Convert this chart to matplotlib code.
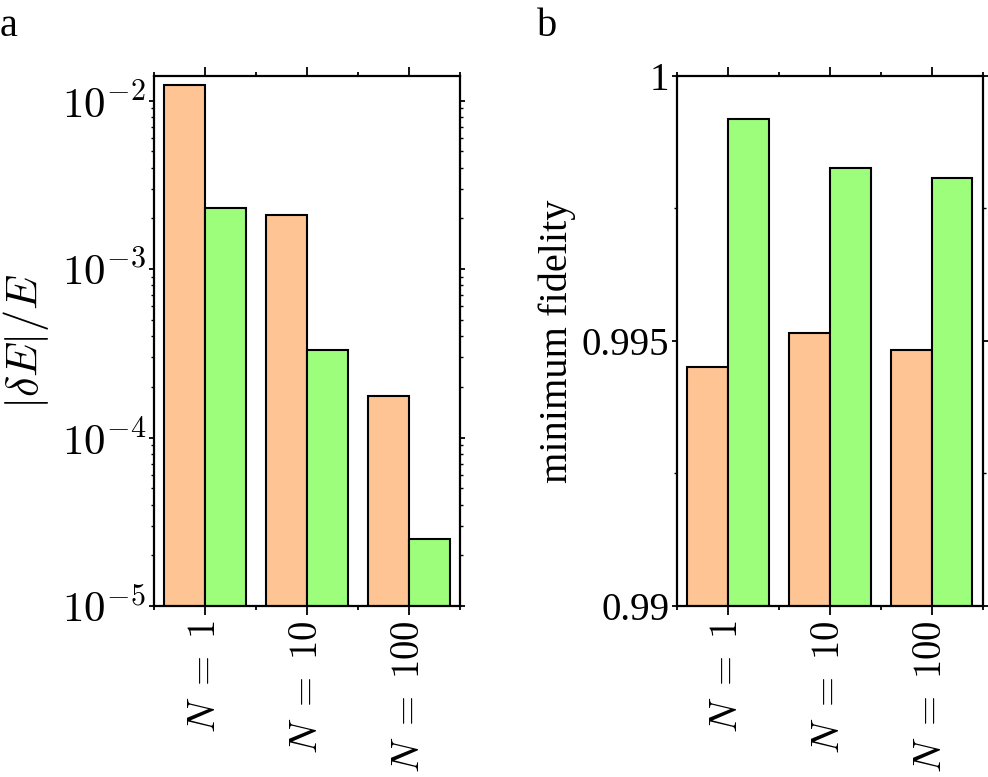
import numpy as np
import matplotlib
matplotlib.use("Agg")
import matplotlib.pyplot as plt
from matplotlib.ticker import FixedLocator, LogLocator, NullFormatter, FormatStrFormatter

plt.rcParams["font.family"] = ["Liberation Serif", "DejaVu Serif"]
plt.rcParams["mathtext.fontset"] = "cm"
plt.rcParams["font.size"] = 28

# data
labels = [r"$N\;=\;1$", r"$N\;=\;10$", r"$N\;=\;100$"]
err_orange = [1.24e-2, 2.1e-3, 1.77e-4]
err_green = [2.3e-3, 3.3e-4, 2.5e-5]
fid_orange = [0.99450, 0.99516, 0.99483]
fid_green = [0.99918, 0.99826, 0.99807]

c_orange = "#fec494"
c_green = "#9cfe7b"
w = 0.4
x = np.arange(len(labels))

fig = plt.figure(figsize=(9.88, 7.77), dpi=100)
axa = fig.add_axes([0.1559, 0.2201, 0.3097, 0.6821])
axb = fig.add_axes([0.6852, 0.2201, 0.3094, 0.6821])


def style(ax):
    for s in ax.spines.values():
        s.set_linewidth(1.6)
    ax.set_xlim(-0.5, 2.5)
    ax.xaxis.set_major_locator(FixedLocator(x))
    ax.xaxis.set_minor_locator(FixedLocator([-0.5, 0.5, 1.5, 2.5]))
    ax.set_xticklabels(labels, rotation=90, fontsize=28)
    ax.tick_params(axis="x", which="major", direction="out", length=6.5, width=1.3,
                   top=True, bottom=True, pad=4)
    ax.tick_params(axis="x", which="minor", direction="out", length=3, width=1.3,
                   top=True, bottom=True)
    ax.tick_params(axis="y", which="major", direction="out", length=3.6, width=1.3,
                   left=True, right=True, pad=2)
    ax.tick_params(axis="y", which="minor", direction="out", length=2, width=1.0,
                   left=True, right=True)


# panel a
axa.bar(x - w / 2, err_orange, w, color=c_orange, edgecolor="black", linewidth=1.5)
axa.bar(x + w / 2, err_green, w, color=c_green, edgecolor="black", linewidth=1.5)
axa.set_yscale("log")
axa.set_ylim(1e-5, 10 ** -1.854)
axa.yaxis.set_major_locator(FixedLocator([1e-5, 1e-4, 1e-3, 1e-2]))
axa.set_yticklabels([r"$10^{-5}$", r"$10^{-4}$", r"$10^{-3}$", r"$10^{-2}$"], fontsize=31)
axa.yaxis.set_minor_locator(LogLocator(base=10, subs=np.arange(2, 10), numticks=20))
axa.yaxis.set_minor_formatter(NullFormatter())
style(axa)
axa.set_ylabel(r"$|\delta E|/E$", fontsize=32, labelpad=8)

# panel b
axb.bar(x - w / 2, fid_orange, w, color=c_orange, edgecolor="black", linewidth=1.5)
axb.bar(x + w / 2, fid_green, w, color=c_green, edgecolor="black", linewidth=1.5)
axb.set_ylim(0.99, 1.0)
axb.yaxis.set_major_locator(FixedLocator([0.99, 0.995, 1.0]))
axb.yaxis.set_major_formatter(FormatStrFormatter("%g"))
axb.yaxis.set_minor_locator(FixedLocator([0.9925, 0.9975]))
style(axb)
axb.set_ylabel("minimum fidelity", fontsize=29, labelpad=4)

fig.text(0.0, 0.99, "a", fontsize=29, va="top", ha="left")
fig.text(0.543, 0.99, "b", fontsize=29, va="top", ha="left")

fig.savefig("out.png", dpi=100)
